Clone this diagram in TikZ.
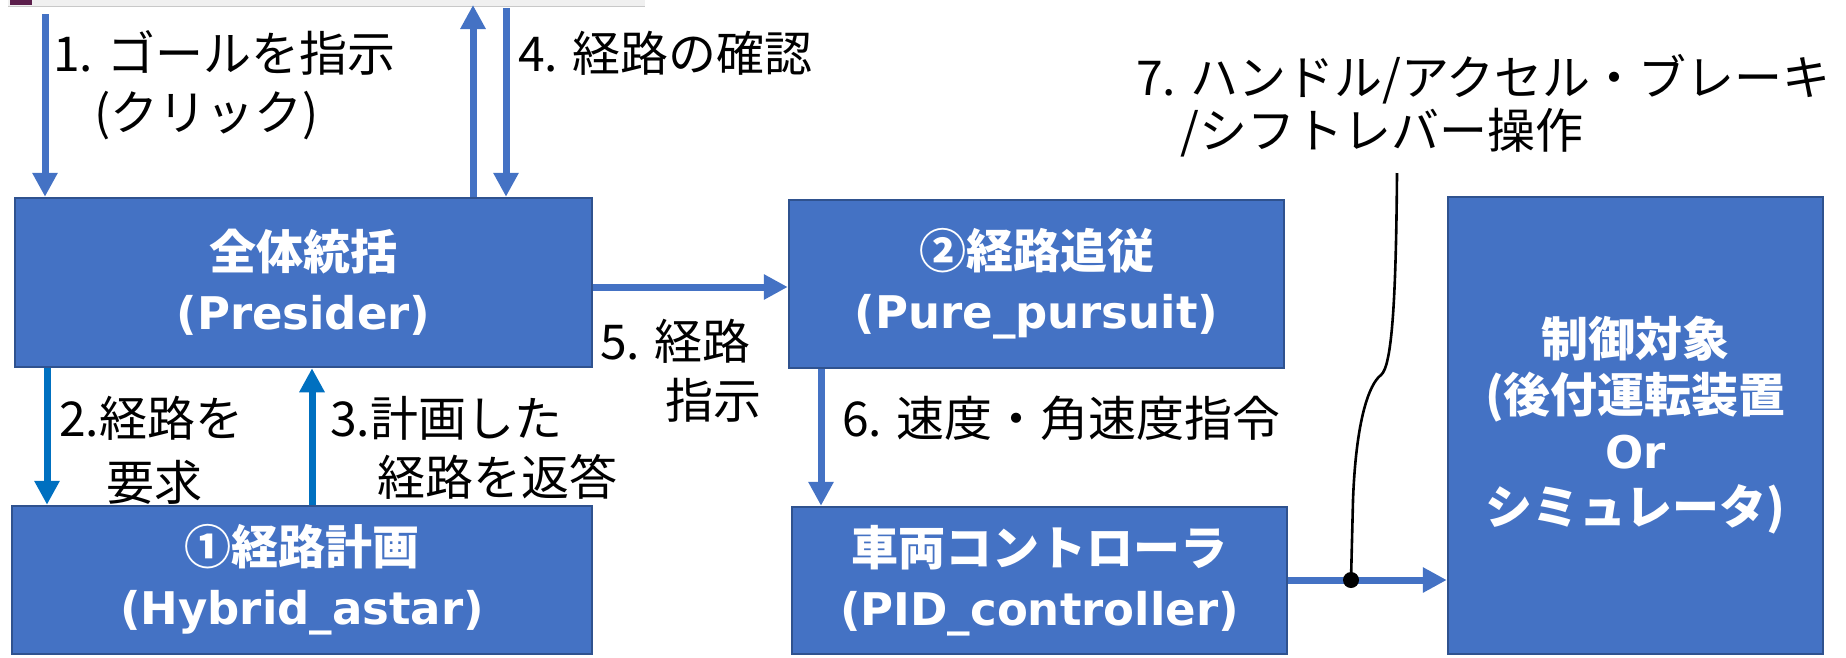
\documentclass[tikz,border=0pt]{standalone}
\usepackage{fontspec}
\newfontfamily\jp{Noto Sans CJK JP}
\newfontfamily\lat{DejaVu Sans}
\usetikzlibrary{arrows.meta}
\definecolor{boxblue}{HTML}{4472C4}
\definecolor{boxedge}{HTML}{2F528F}
\definecolor{arrblue}{HTML}{4472C4}
\definecolor{arrdark}{HTML}{0070C0}
\definecolor{stripgray}{HTML}{F0F0F0}
\definecolor{stripline}{HTML}{C8C8C8}
\definecolor{apppurple}{HTML}{5C1F4C}
\newcommand\boxlat[1]{{\lat\bfseries\fontsize{45}{60}\selectfont #1}}
\begin{document}
\begin{tikzpicture}[x=1pt,y=-1pt,
  box/.style={draw=boxedge, line width=2.5pt, fill=boxblue, text=white,
    font=\jp\bfseries\fontsize{47}{60}\selectfont, align=center, inner sep=0pt},
  lbl/.style={font=\jp\fontsize{48}{59}\selectfont, anchor=base west, inner sep=0pt},
  arr/.style={draw=arrblue, line width=7pt, -{Triangle[width=24pt,length=24pt]}},
  arrd/.style={arr, draw=arrdark},
  wire/.style={draw=black, line width=2.6pt}
]
\useasboundingbox (0,0) rectangle (1846,657);
\fill[white] (0,0) rectangle (1846,657);
% cut-off screenshot strip at the top
\fill[stripgray] (8,0) rectangle (645,6);
\draw[stripline, line width=1pt] (8,6) -- (645,6);
\fill[apppurple] (10,0) rectangle (32,5);

% boxes
\node[box, minimum width=577pt, minimum height=169pt] (pres) at (303.5,282.5)
  {全体統括\\\boxlat{(Presider)}};
\node[box, minimum width=580pt, minimum height=148pt] (hyb) at (302,580)
  {①経路計画\\\boxlat{(Hybrid\_astar)}};
\node[box, minimum width=495pt, minimum height=168pt] (pure) at (1036.5,284)
  {②経路追従\\\boxlat{(Pure\_pursuit)}};
\node[box, minimum width=495pt, minimum height=147pt] (pid) at (1039.5,580.5)
  {車両コントローラ\\\boxlat{(PID\_controller)}};
\node[box, minimum width=375pt, minimum height=457pt, font=\jp\bfseries\fontsize{47}{56}\selectfont] (plant) at (1635.5,425.5)
  {制御対象\\(後付運転装置\\{\lat\bfseries\fontsize{45}{56}\selectfont Or}\\シミュレータ)};

% arrow end coordinates
\coordinate (t1) at (45,14);
\coordinate (t2) at (473,5);
\coordinate (t4) at (506,8);
\coordinate (c2) at (47,0);
\coordinate (c3) at (312,0);
\coordinate (c5) at (0,287);
\coordinate (c6) at (821,0);
\coordinate (c7) at (0,580);
\coordinate (w7) at (1397,173);

% arrows
\draw[arr] (t1) -- (t1 |- pres.north);
\draw[arr] (t2 |- pres.north) -- (t2);
\draw[arr] (t4) -- (t4 |- pres.north);
\draw[arrd] (c2 |- pres.south) -- (c2 |- hyb.north);
\draw[arrd] (c3 |- hyb.north) -- (c3 |- pres.south);
\draw[arr] (pres.east |- c5) -- (pure.west |- c5);
\draw[arr] (c6 |- pure.south) -- (c6 |- pid.north);
\draw[arr] (pid.east |- c7) -- (plant.west |- c7);

% operation wire
\node[circle, fill=black, minimum size=16pt, inner sep=0pt] (dot) at (1351,580) {};
\draw[wire] (w7) .. controls (1396,300) and (1392,366) .. (1381,375)
  .. controls (1369,384) and (1356,420) .. (1353,500) -- (dot.center);

% labels
\node[lbl] (l1a) at (53,71) {1. ゴールを指示};
\node[lbl] (l1b) at (94,130) {(クリック)};
\node[lbl] (l4) at (518,71) {4. 経路の確認};
\node[lbl] (l7a) at (1136,95) {7. ハンドル/アクセル・ブレーキ};
\node[lbl] (l7b) at (1180,148) {/シフトレバー操作};
\node[lbl] (l5a) at (600,359) {5. 経路};
\node[lbl] (l5b) at (665,418) {指示};
\node[lbl] (l2a) at (59,436) {2.経路を};
\node[lbl] (l2b) at (106,500) {要求};
\node[lbl] (l3a) at (330,436) {3.計画した};
\node[lbl] (l3b) at (377,495) {経路を返答};
\node[lbl] (l6) at (842,436) {6. 速度・角速度指令};
\end{tikzpicture}
\end{document}
